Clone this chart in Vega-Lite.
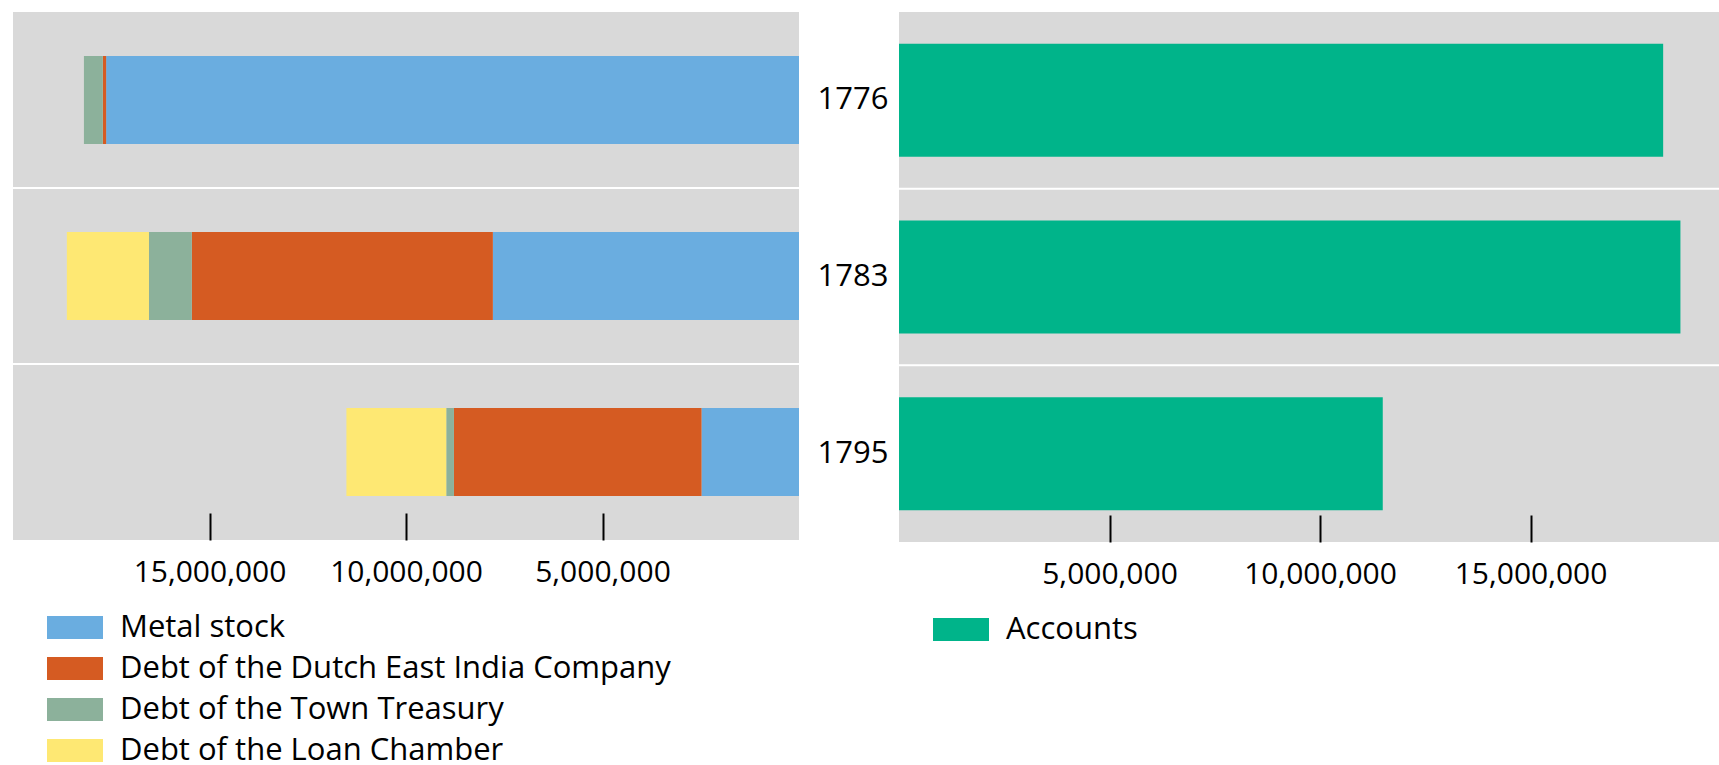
{
  "$schema": "https://vega.github.io/schema/vega-lite/v6.json",
  "padding": {"left": 12, "top": 12, "right": 0, "bottom": 0},
  "spacing": 100,
  "bounds": "flush",
  "config": {
    "font": "Open Sans",
    "view": {"stroke": null, "fill": "#d9d9d9"},
    "axis": {"labelFont": "Open Sans", "labelFontSize": 30, "labelColor": "#000000", "grid": false, "domain": false},
    "legend": {"labelFont": "Open Sans", "labelFontSize": 31, "labelColor": "#000000"}
  },
  "datasets": {
    "assets": [
      {"year": 1776, "item": "Metal stock", "guilders": 17630000},
      {"year": 1776, "item": "Debt of the Dutch East India Company", "guilders": 85000},
      {"year": 1776, "item": "Debt of the Town Treasury", "guilders": 480000},
      {"year": 1783, "item": "Metal stock", "guilders": 7790000},
      {"year": 1783, "item": "Debt of the Dutch East India Company", "guilders": 7660000},
      {"year": 1783, "item": "Debt of the Town Treasury", "guilders": 1090000},
      {"year": 1783, "item": "Debt of the Loan Chamber", "guilders": 2090000},
      {"year": 1795, "item": "Metal stock", "guilders": 2480000},
      {"year": 1795, "item": "Debt of the Dutch East India Company", "guilders": 6300000},
      {"year": 1795, "item": "Debt of the Town Treasury", "guilders": 196000},
      {"year": 1795, "item": "Debt of the Loan Chamber", "guilders": 2540000}
    ],
    "liabilities": [
      {"year": 1776, "item": "Accounts", "guilders": 18150000},
      {"year": 1783, "item": "Accounts", "guilders": 18560000},
      {"year": 1795, "item": "Accounts", "guilders": 11490000}
    ]
  },
  "hconcat": [
    {
      "width": 786,
      "height": 528,
      "data": {"name": "assets"},
      "layer": [
        {
          "transform": [{"calculate": "indexof(['Metal stock', 'Debt of the Dutch East India Company', 'Debt of the Town Treasury', 'Debt of the Loan Chamber'], datum.item)", "as": "stack_rank"}],
          "mark": {"type": "bar", "height": {"band": 0.5}},
          "encoding": {
            "y": {"field": "year", "type": "ordinal", "axis": null, "scale": {"paddingInner": 0, "paddingOuter": 0}},
            "x": {
              "field": "guilders", "type": "quantitative", "stack": "zero",
              "scale": {"domain": [0, 20000000], "reverse": true, "nice": false},
              "axis": {"title": null, "values": [5000000, 10000000, 15000000], "format": ",.0f", "offset": -27, "tickSize": 27, "tickWidth": 2, "tickColor": "#000000", "labelPadding": 17}
            },
            "order": {"field": "stack_rank", "type": "quantitative", "sort": "ascending"},
            "color": {
              "field": "item", "type": "nominal",
              "sort": ["Metal stock", "Debt of the Dutch East India Company", "Debt of the Town Treasury", "Debt of the Loan Chamber"],
              "scale": {
                "domain": ["Metal stock", "Debt of the Dutch East India Company", "Debt of the Town Treasury", "Debt of the Loan Chamber"],
                "range": ["#6aade0", "#d55b22", "#8cb19b", "#fee873"]
              },
              "legend": {"orient": "none", "legendX": 34, "legendY": 595, "title": null, "direction": "vertical", "symbolType": "M-1,-0.41L1,-0.41L1,0.41L-1,0.41Z", "symbolSize": 3136, "symbolStrokeWidth": 0, "symbolOpacity": 1, "clipHeight": 41, "rowPadding": 0, "labelOffset": 17, "labelLimit": 900}
            }
          }
        },
        {
          "transform": [{"filter": "datum.year > 1776"}],
          "mark": {"type": "rule", "color": "#ffffff", "strokeWidth": 2},
          "encoding": {"y": {"field": "year", "type": "ordinal", "bandPosition": 0}}
        }
      ]
    },
    {
      "width": 821,
      "height": 530,
      "data": {"name": "liabilities"},
      "layer": [
        {
          "mark": {"type": "bar", "height": {"band": 0.64}},
          "encoding": {
            "y": {"field": "year", "type": "ordinal", "scale": {"paddingInner": 0, "paddingOuter": 0},
              "axis": {"title": null, "ticks": false, "labelPadding": 11, "labelAngle": 0, "labelFontSize": 31}},
            "x": {
              "field": "guilders", "type": "quantitative",
              "scale": {"domain": [0, 19500000], "nice": false},
              "axis": {"title": null, "values": [5000000, 10000000, 15000000], "format": ",.0f", "offset": -27, "tickSize": 27, "tickWidth": 2, "tickColor": "#000000", "labelPadding": 17}
            },
            "color": {
              "field": "item", "type": "nominal",
              "scale": {"domain": ["Accounts"], "range": ["#00b48a"]},
              "legend": {"orient": "none", "legendX": 34, "legendY": 597, "title": null, "direction": "vertical", "symbolType": "M-1,-0.41L1,-0.41L1,0.41L-1,0.41Z", "symbolSize": 3136, "symbolStrokeWidth": 0, "symbolOpacity": 1, "clipHeight": 41, "rowPadding": 0, "labelOffset": 17, "labelLimit": 900}
            }
          }
        },
        {
          "transform": [{"filter": "datum.year > 1776"}],
          "mark": {"type": "rule", "color": "#ffffff", "strokeWidth": 2},
          "encoding": {"y": {"field": "year", "type": "ordinal", "bandPosition": 0}}
        }
      ]
    }
  ],
  "resolve": {"scale": {"color": "independent", "y": "independent", "x": "independent"}}
}
